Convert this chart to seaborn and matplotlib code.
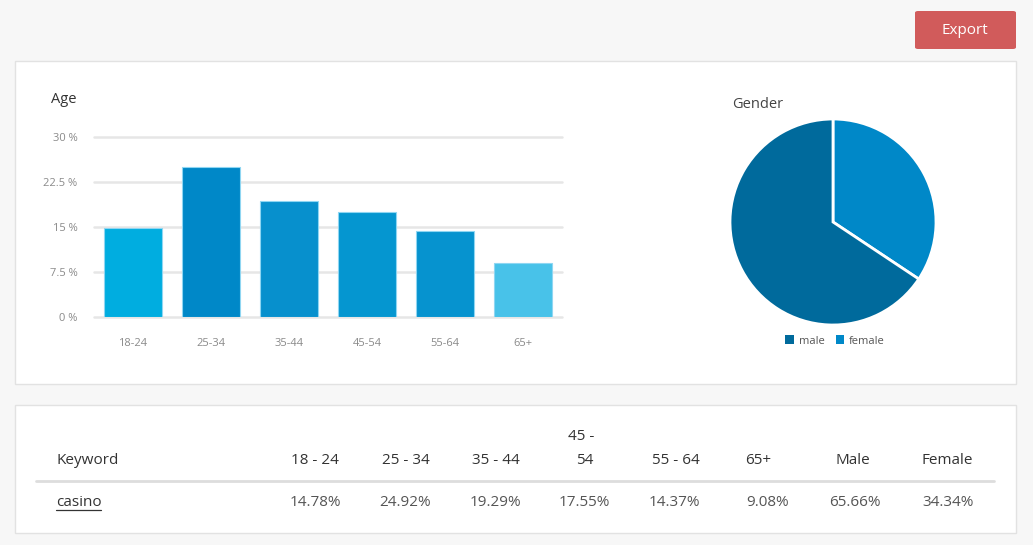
import matplotlib
matplotlib.use('Agg')
import matplotlib.pyplot as plt
from matplotlib.patches import Rectangle, FancyBboxPatch, Patch
from matplotlib.lines import Line2D
import seaborn as sns

# data
age_groups = ['18-24', '25-34', '35-44', '45-54', '55-64', '65+']
age_share = [14.78, 24.92, 19.29, 17.55, 14.37, 9.08]
age_colors = ['#00ade0', '#0088c8', '#0790cd', '#0596d0', '#0693cf', '#48c2e9']
y_ticks = [0, 7.5, 15, 22.5, 30]
y_tick_labels = ['0 %', '7.5 %', '15 %', '22.5 %', '30 %']

gender_labels = ['male', 'female']
gender_share = [65.66, 34.34]
gender_colors = ['#006a9c', '#0088c8']

keyword = 'casino'
table_headers = ['18 - 24', '25 - 34', '35 - 44', '45 -\n54', '55 - 64', '65+', 'Male', 'Female']

W, H = 1033, 545
def fx(x):
    return x / W
def fy(y):
    return 1 - y / H

sns.set_theme(style='white')
plt.rcParams['font.family'] = ['Open Sans', 'DejaVu Sans']

fig = plt.figure(figsize=(W / 100, H / 100), dpi=100)
fig.patch.set_facecolor('#f7f7f7')

# cards
for top, bottom in [(61, 384), (405, 533)]:
    fig.add_artist(Rectangle((fx(15), fy(bottom)), fx(1001), (bottom - top) / H,
                             transform=fig.transFigure, facecolor='white',
                             edgecolor='#e2e2e2', linewidth=1, zorder=0))

# export button
fig.add_artist(FancyBboxPatch((fx(915), fy(49)), fx(101), 38 / H,
                              boxstyle='round,pad=0,rounding_size=0.003',
                              transform=fig.transFigure, facecolor='#d15b5b',
                              edgecolor='none', zorder=1))
fig.text(fx(965), fy(31), 'Export', color='white', fontsize=11, ha='center', va='center')

# age bar chart
ax = fig.add_axes([fx(94), fy(317), 468 / W, 180 / H])
sns.barplot(x=age_groups, y=age_share, hue=age_groups, palette=age_colors,
            width=0.74, legend=False, ax=ax, saturation=1,
            edgecolor='#8fd6f2', linewidth=0.8, zorder=3)
ax.set_ylim(0, 30)
ax.set_xlim(-0.5, 5.5)
for t in y_ticks:
    ax.axhline(t, color='#e6e6e6', linewidth=1.8, zorder=1, clip_on=False)
ax.set_yticks(y_ticks)
ax.set_yticklabels(y_tick_labels)
ax.tick_params(axis='y', length=0, pad=12, labelsize=8, labelcolor='#8a8a8a')
ax.tick_params(axis='x', length=0, pad=15, labelsize=8, labelcolor='#8a8a8a')
for s in ax.spines.values():
    s.set_visible(False)
ax.set_facecolor('none')
fig.text(fx(51), fy(99), 'Age', fontsize=10.5, color='#333333', va='center')

# gender pie
pax = fig.add_axes([fx(730), fy(325), 206 / W, 206 / H])
pax.pie(gender_share[::-1], colors=gender_colors[::-1], startangle=90,
        counterclock=False, radius=1,
        wedgeprops=dict(edgecolor='white', linewidth=2))
pax.set_xlim(-1, 1)
pax.set_ylim(-1, 1)
pax.set_aspect('equal')
fig.text(fx(732), fy(104), 'Gender', fontsize=10.5, color='#444444', va='center')
handles = [Patch(facecolor=c, edgecolor='none') for c in gender_colors]
fig.legend(handles, gender_labels, loc='center', bbox_to_anchor=(fx(835), fy(341)),
           ncol=2, frameon=False, fontsize=8, handlelength=0.8, handleheight=0.8,
           handletextpad=0.4, columnspacing=1.0, labelcolor='#555555')

# table
fig.text(fx(56), fy(460), 'Keyword', fontsize=11, color='#333333', va='center')
head_center = [315, 406, 496, 583, 676, 758, 853, 947]
val_right = [341, 431, 521, 610, 700, 789, 881, 974]
values = age_share + gender_share
for xc, xr, head, v in zip(head_center, val_right, table_headers, values):
    if '\n' in head:
        top, bot = head.split('\n')
        fig.text(fx(xc - 2), fy(436), top, fontsize=11, color='#333333', ha='center', va='center')
        fig.text(fx(xc + 2), fy(460), bot, fontsize=11, color='#333333', ha='center', va='center')
    else:
        fig.text(fx(xc), fy(460), head, fontsize=11, color='#333333', ha='center', va='center')
    fig.text(fx(xr), fy(502), f'{v:.2f}%', fontsize=11, color='#555555', ha='right', va='center')

fig.add_artist(Line2D([fx(36), fx(994)], [fy(481), fy(481)], color='#dddddd',
                      linewidth=2, transform=fig.transFigure))
fig.text(fx(56), fy(502), keyword, fontsize=11, color='#333333', va='center')
fig.add_artist(Line2D([fx(56), fx(101)], [fy(510), fy(510)], color='#333333',
                      linewidth=0.9, transform=fig.transFigure))

fig.savefig('out.png', dpi=100, facecolor=fig.get_facecolor())
